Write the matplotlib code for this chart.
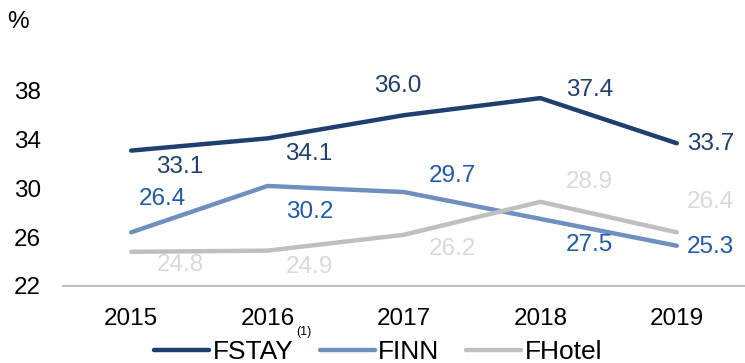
import matplotlib.pyplot as plt

plt.rcParams['font.family'] = ['Liberation Sans', 'DejaVu Sans']

years = ["2015", "2016", "2017", "2018", "2019"]
fstay = [33.1, 34.1, 36.0, 37.4, 33.7]
finn = [26.4, 30.2, 29.7, 27.5, 25.3]
fhotel = [24.8, 24.9, 26.2, 28.9, 26.4]
y_ticks = [22, 26, 30, 34, 38]

# label offsets in pixels (dx right, dy down) from each point
off_fstay = [(48, 16), (41, 16), (-6, -29), (49, -8), (34, 1)]
off_finn = [(31, -33), (42, 26), (48, -16), (49, 26), (34, 1)]
off_fhotel = [(49, 13), (42, 16), (48, 14), (49, -20), (34, -30)]

series = [
    ("FSTAY", fstay, "#1f3f6e", "#1f3f6e", off_fstay),
    ("FINN", finn, "#6f8fbf", "#1f5aa6", off_finn),
    ("FHotel", fhotel, "#bfbfbf", "#d9d9d9", off_fhotel),
]

fig = plt.figure(figsize=(7.45, 3.63), dpi=100)
ax = fig.add_axes([63 / 745, 1 - 286 / 363, 1 - 63 / 745, 244 / 363])

x = list(range(len(years)))
for name, vals, lc, tc, offs in series:
    ax.plot(x, vals, color=lc, lw=3.2, solid_capstyle="round",
            solid_joinstyle="round", label=name)
    for xi, v, (dx, dy) in zip(x, vals, offs):
        ax.annotate(f"{v:.1f}", (xi, v), xytext=(dx * 0.72, -dy * 0.72),
                    textcoords="offset points", ha="center", va="center",
                    fontsize=17.5, color=tc)

ax.set_xlim(-0.5, 4.5)
ax.set_ylim(22, 42)
ax.set_xticks(x)
ax.set_xticklabels(years)
ax.set_yticks(y_ticks)
ax.tick_params(axis="both", length=0, labelsize=17.5, colors="black")
ax.tick_params(axis="x", pad=16)
ax.tick_params(axis="y", pad=16)
for s in ["top", "right", "left"]:
    ax.spines[s].set_visible(False)
ax.spines["bottom"].set_color("#bfbfbf")
ax.spines["bottom"].set_linewidth(1.5)

fig.text(18 / 745, 1 - 22 / 363, "%", fontsize=17.5, ha="center", va="center")
fig.text(304 / 745, 1 - 332 / 363, "(1)", fontsize=9, ha="center", va="center")

fig.legend(loc="center", bbox_to_anchor=(378 / 745, 1 - 352 / 363),
           ncol=3, frameon=False, fontsize=19, handlelength=2.1,
           handletextpad=0.12, columnspacing=1.0, borderpad=0)

fig.savefig("out.png", dpi=100)
